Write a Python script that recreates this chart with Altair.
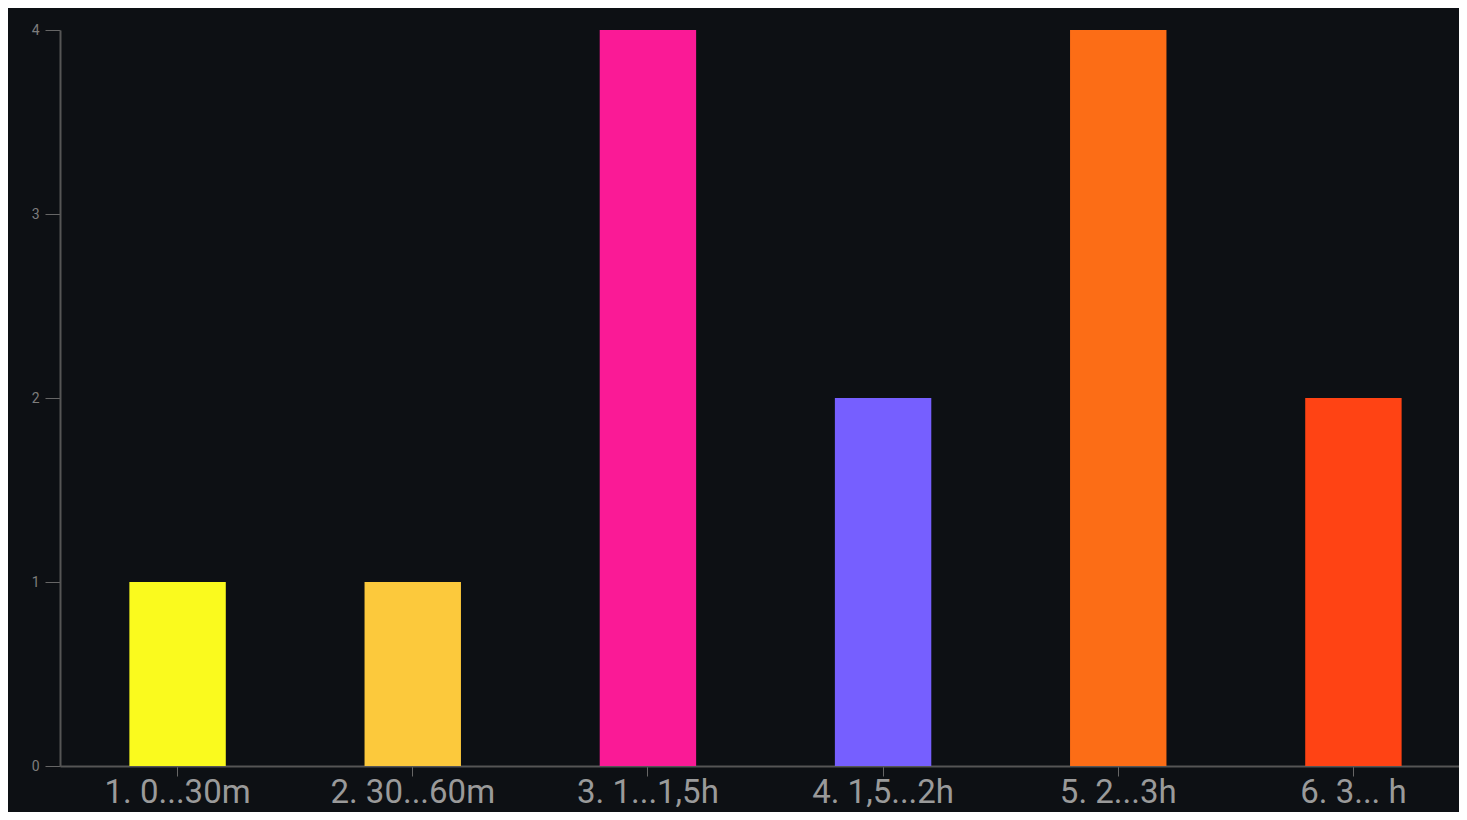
import altair as alt
import pandas as pd

categories = ["1. 0...30m", "2. 30...60m", "3. 1...1,5h", "4. 1,5...2h", "5. 2...3h", "6. 3... h"]
counts = [1, 1, 4, 2, 4, 2]
colors = ["#FAFA1E", "#FCC93C", "#FA1A96", "#765FFF", "#FC6D16", "#FF4314"]
y_ticks = [0, 1, 2, 3, 4]

df = pd.DataFrame({"bucket": categories, "count": counts})

chart = alt.Chart(df).mark_bar().encode(
    x=alt.X(
        "bucket:N",
        sort=categories,
        title=None,
        scale=alt.Scale(range=[0, 1411], paddingInner=0.59, paddingOuter=0.295),
        axis=alt.Axis(
            labelAngle=0,
            labelFontSize=33,
            labelFont="Roboto",
            labelColor="#9a9a9a",
            labelPadding=0,
            tickSize=10,
            tickColor="#666666",
            domainColor="#555555",
            domainWidth=2,
        ),
    ),
    y=alt.Y(
        "count:Q",
        title=None,
        scale=alt.Scale(domain=[0, 4], nice=False),
        axis=alt.Axis(
            values=y_ticks,
            grid=False,
            labelFontSize=14,
            labelFont="Roboto",
            labelColor="#7d7d7d",
            labelPadding=6,
            tickSize=15,
            tickColor="#666666",
            domainColor="#555555",
            domainWidth=2,
        ),
    ),
    color=alt.Color(
        "bucket:N",
        sort=categories,
        scale=alt.Scale(domain=categories, range=colors),
        legend=None,
    ),
).properties(
    width=1399,
    height=736,
    background="#0d1014",
    padding={"left": 52, "top": 22, "right": 0, "bottom": 46},
    autosize=alt.AutoSizeParams(type="none"),
).configure_view(
    stroke="transparent"
)

chart.save("out.html", embed_options={"renderer": "svg", "actions": False})
